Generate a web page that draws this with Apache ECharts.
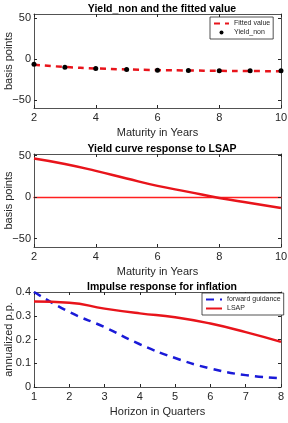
<!DOCTYPE html>
<html><head><meta charset="utf-8">
<script src="https://cdn.jsdelivr.net/npm/echarts@6/dist/echarts.min.js"></script>
<style>html,body{margin:0;padding:0;background:#fff}#c{width:288px;height:423px}</style>
</head><body><div id="c"></div>
<script>
// Panel 1
const maturities = [2, 3, 4, 5, 6, 7, 8, 9, 10];
const yieldNon = [-6.5, -10, -11.6, -12.9, -13.7, -14, -14.4, -14.5, -14.5];
const fittedValue = [-7, -9.8, -11.6, -12.8, -13.6, -14.1, -14.5, -14.8, -15];
// Panel 2
const lsapYield = [46.6, 40, 31.7, 22.5, 13.6, 6.4, -1, -7, -13];
// Panel 3
const quarters = [1, 2, 3, 4, 5, 6, 7, 8];
const forwardGuidance = [0.40, 0.316, 0.252, 0.18, 0.122, 0.078, 0.05, 0.037];
const lsapInflation = [0.36, 0.355, 0.33, 0.31, 0.294, 0.267, 0.231, 0.19];
const yTicksBp = [-50, 0, 50];

const pair = (xs, ys) => xs.map((x, i) => [x, ys[i]]);
const FONT = 'Liberation Sans';
const AX = '#262626';
const RED = '#e8141b';
const BLUE = '#1a1ad8';
const fmt = v => String(v).replace('-', '\u2212');
const grids = [
  {left: 34, right: 7, top: 14, height: 94},
  {left: 34, right: 7, top: 154, height: 93},
  {left: 34, right: 7, top: 292, height: 95}
].map(g => Object.assign(g, {outerBoundsMode: 'none', containLabel: false}));
function xAxes(gi, min, max, interval, name) {
  return [{
    type: 'value', gridIndex: gi, min, max, interval,
    name, nameLocation: 'middle', nameGap: 19, nameMoveOverlap: false,
    nameTextStyle: {fontFamily: FONT, fontSize: 11, color: AX},
    axisLine: {onZero: false, lineStyle: {color: AX, width: 0.8}},
    axisTick: {inside: true, length: 3, lineStyle: {color: AX}},
    axisLabel: {fontFamily: FONT, fontSize: 11, color: AX, margin: 4, formatter: fmt},
    splitLine: {show: false}
  }, {
    type: 'value', gridIndex: gi, min, max, interval, position: 'top',
    axisLine: {onZero: false, lineStyle: {color: AX, width: 0.8}},
    axisTick: {inside: true, length: 3, lineStyle: {color: AX}},
    axisLabel: {show: false}, splitLine: {show: false}
  }];
}
function yAxes(gi, min, max, opts, name) {
  const base = {
    type: 'value', gridIndex: gi, min, max,
    splitLine: {show: false},
    axisLine: {show: true, onZero: false, lineStyle: {color: AX, width: 0.8}},
  };
  return [Object.assign({}, base, {
    name, nameLocation: 'middle', nameGap: 20, nameMoveOverlap: false,
    nameTextStyle: {fontFamily: FONT, fontSize: 11, color: AX},
    axisTick: Object.assign({inside: true, length: 3, lineStyle: {color: AX}}, opts.tick),
    axisLabel: Object.assign({fontFamily: FONT, fontSize: 11, color: AX, margin: 3, formatter: fmt}, opts.label)
  }, opts.extra || {}), Object.assign({}, base, {
    position: 'right',
    axisTick: Object.assign({inside: true, length: 3, lineStyle: {color: AX}}, opts.tick),
    axisLabel: {show: false}
  }, opts.extra || {})];
}
const bpOpts = {tick: {customValues: yTicksBp}, label: {customValues: yTicksBp}};
const legendCommon = {
  orient: 'vertical', padding: [3, 3], itemGap: 2, itemHeight: 4,
  borderColor: AX, borderWidth: 0.8, backgroundColor: '#fff',
  textStyle: {fontFamily: FONT, fontSize: 7, color: AX}
};
// zero reference axis line for panel 2 (x axis sitting on y = 0)
const zeroAxis = {
  type: 'value', gridIndex: 1, min: 2, max: 10, position: 'bottom',
  axisLine: {show: true, onZero: true, lineStyle: {color: '#ff2020', width: 1.3}},
  axisTick: {show: false}, axisLabel: {show: false}, splitLine: {show: false}
};
const option = {
  animation: false,
  backgroundColor: '#fff',
  title: [
    {text: 'Yield_non and the fitted value', left: 157, textAlign: 'center', top: -1},
    {text: 'Yield curve response to LSAP', left: 157, textAlign: 'center', top: 139},
    {text: 'Impulse response for inflation', left: 157, textAlign: 'center', top: 277}
  ].map(t => Object.assign(t, {textStyle: {fontFamily: FONT, fontSize: 10.5, fontWeight: 'bold', color: '#000'}})),
  grid: grids,
  xAxis: [].concat(
    xAxes(0, 2, 10, 2, 'Maturity in Years'),
    xAxes(1, 2, 10, 2, 'Maturity in Years'),
    xAxes(2, 1, 8, 1, 'Horizon in Quarters'),
    [zeroAxis]
  ),
  yAxis: [].concat(
    yAxes(0, -60, 55, bpOpts, 'basis points'),
    yAxes(1, -60, 52, bpOpts, 'basis points'),
    yAxes(2, 0, 0.4, {extra: {interval: 0.1}, label: {}, tick: {}}, 'annualized p.p.')
  ),
  legend: [
    Object.assign({}, legendCommon, {
      data: [{name: 'Fitted value', itemStyle: {opacity: 0}}, {name: 'Yield_non'}],
      left: 210, top: 17, itemWidth: 15
    }),
    Object.assign({}, legendCommon, {
      data: [{name: 'forward guidance', itemStyle: {opacity: 0}}, {name: 'LSAP', itemStyle: {opacity: 0}}],
      left: 202, top: 293, itemWidth: 16
    })
  ],
  series: [
    {name: 'Fitted value', type: 'line', xAxisIndex: 0, yAxisIndex: 0, smooth: true,
     data: pair(maturities, fittedValue), showSymbol: false, symbol: 'none',
     lineStyle: {color: RED, width: 2.5, type: [6, 5]}, itemStyle: {color: RED}},
    {name: 'Yield_non', type: 'scatter', xAxisIndex: 0, yAxisIndex: 0, z: 3,
     data: pair(maturities, yieldNon), symbol: 'circle', symbolSize: 5, itemStyle: {color: '#000', opacity: 1}},
    {name: 'LSAP yield', type: 'line', xAxisIndex: 2, yAxisIndex: 2, smooth: true,
     data: pair(maturities, lsapYield), symbol: 'none',
     lineStyle: {color: RED, width: 2.5}},
    {name: 'forward guidance', type: 'line', xAxisIndex: 4, yAxisIndex: 4, smooth: true,
     data: pair(quarters, forwardGuidance), symbol: 'none',
     lineStyle: {color: BLUE, width: 2.5, type: [8, 6]}, itemStyle: {color: BLUE}},
    {name: 'LSAP', type: 'line', xAxisIndex: 4, yAxisIndex: 4, smooth: true,
     data: pair(quarters, lsapInflation), symbol: 'none',
     lineStyle: {color: RED, width: 2.5}, itemStyle: {color: RED}}
  ]
};
const chart = echarts.init(document.getElementById('c'), null, {renderer: 'canvas'});
chart.setOption(option);
</script></body></html>
